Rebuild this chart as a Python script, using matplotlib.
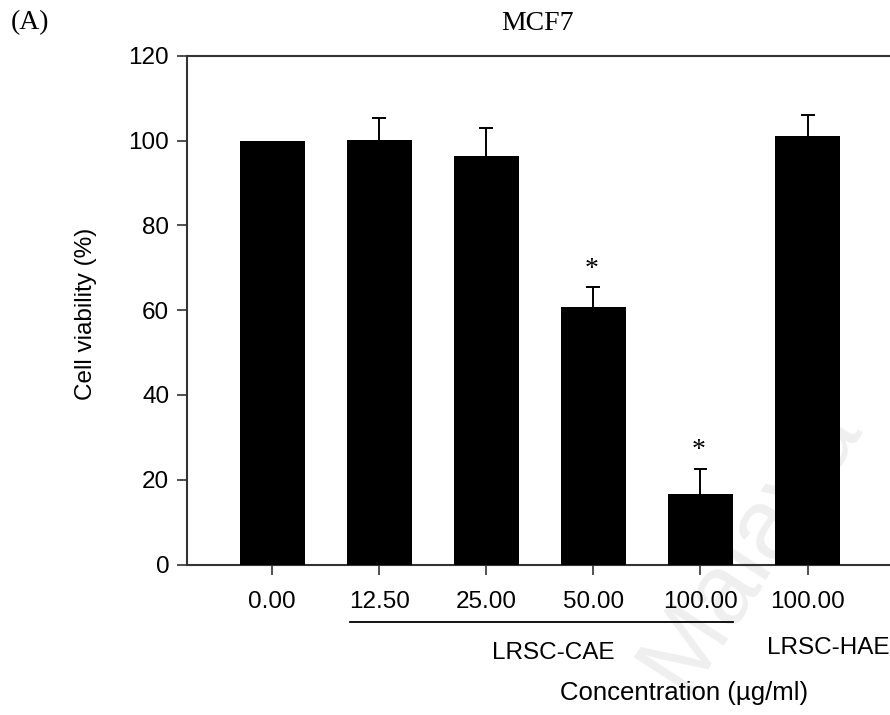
import matplotlib
matplotlib.use("Agg")
import matplotlib.pyplot as plt
from matplotlib.lines import Line2D
import matplotlib.transforms as mtransforms

categories = ["0.00", "12.50", "25.00", "50.00", "100.00", "100.00"]
viability = [100.0, 100.1, 96.4, 60.7, 16.7, 101.1]
err_upper = [0.0, 5.1, 6.6, 4.7, 5.9, 4.9]
significant = [False, False, False, True, True, False]
group_cae = "LRSC-CAE"
group_hae = "LRSC-HAE"

plt.rcParams['font.family'] = ['Liberation Sans', 'DejaVu Sans']
SERIF = ['Liberation Serif', 'DejaVu Serif']
FS = 17.5

fig = plt.figure(figsize=(8.9, 7.15), dpi=100)
ax = fig.add_axes([187.3/890, (715-564.5)/715, 1 - 187.3/890, (564.5-55.7)/715])
ax.patch.set_alpha(0)

# faint watermark
fig.text(750/890, 1 - 545/715, "Malaya", ha='center', va='center', fontsize=72,
         rotation=57, color='#efefef', zorder=-5)

x = list(range(len(categories)))
bw = 0.61
ax.bar(x, viability, width=bw, color='black', edgecolor='none', zorder=3)

for xi, v, e in zip(x, viability, err_upper):
    if e > 0:
        ax.vlines(xi, v, v + e, color='black', lw=1.4, zorder=2)
        ax.hlines(v + e, xi - 0.065, xi + 0.065, color='black', lw=1.4, zorder=2)

for xi, v, e, s in zip(x, viability, err_upper, significant):
    if s:
        ax.text(xi - 0.02, v + e + 4.2, "*", ha='center', va='center', fontsize=20,
                family=SERIF)

ax.set_xlim(-0.793, 5.77)
ax.set_ylim(0, 120)
ax.set_yticks([0, 20, 40, 60, 80, 100, 120])
ax.set_xticks(x)
ax.set_xticklabels(categories)
ax.tick_params(axis='both', labelsize=FS, length=7, width=1.2, direction='out', color='#333333')
ax.tick_params(axis='x', pad=12)
ax.tick_params(axis='y', pad=6)

for side in ['left', 'bottom', 'top']:
    ax.spines[side].set_color('#333333')
    ax.spines[side].set_linewidth(1.5)
ax.spines['right'].set_visible(False)

ax.set_ylabel("Cell viability (%)", fontsize=FS)
ax.yaxis.set_label_coords(-0.128, 0.493)

# group underline below CAE concentrations
yline = (715 - 621.5) / 715
blend = mtransforms.blended_transform_factory(ax.transData, fig.transFigure)
fig.add_artist(Line2D([1 - bw/2 + 0.03, 4 + bw/2], [yline, yline], color='black', lw=1.3,
                      transform=blend))

fig.text(553/890, 1 - 653/715, group_cae, ha='center', va='center', fontsize=FS)
fig.text(828/890, 1 - 648/715, group_hae, ha='center', va='center', fontsize=FS)
fig.text(684/890, 1 - 693/715, "Concentration (µg/ml)", ha='center', va='center', fontsize=18.5)

fig.text(537/890, 1 - 24/715, "MCF7", ha='center', va='center', fontsize=20, family=SERIF)
fig.text(11/890, 1 - 23/715, "(A)", ha='left', va='center', fontsize=20, family=SERIF)

fig.savefig("out.png", dpi=100)
